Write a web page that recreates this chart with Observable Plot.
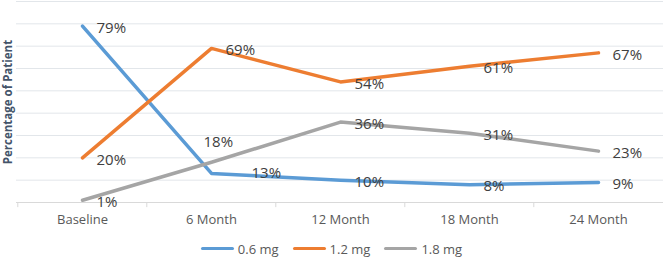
<!DOCTYPE html>
<html>
<head>
<meta charset="utf-8">
<script src="https://cdn.jsdelivr.net/npm/d3@7"></script>
<script src="https://cdn.jsdelivr.net/npm/@observablehq/plot@0.6"></script>
<style>
  html, body { margin: 0; padding: 0; background: #fff; }
  #chart { width: 663px; }
  .legend { display: flex; justify-content: center; align-items: center; height: 23px; font-family: "Open Sans", sans-serif; font-size: 13px; color: #595959; }
  .legend .item { display: flex; align-items: center; margin: 0 7px; }
  .legend .sw { width: 33px; height: 3.5px; border-radius: 2px; margin-right: 4px; }
</style>
</head>
<body>
<div id="chart"></div>
<script>
const categories = ["Baseline", "6 Month", "12 Month", "18 Month", "24 Month"];
const seriesNames = ["0.6 mg", "1.2 mg", "1.8 mg"];
const values06 = [79, 13, 10, 8, 9];
const values12 = [20, 69, 54, 61, 67];
const values18 = [1, 18, 36, 31, 23];
const colors = ["#5B9BD5", "#ED7D31", "#A5A5A5"];
const gridTicks = [10, 20, 30, 40, 50, 60, 70, 80, 90];

const seriesValues = [values06, values12, values18];
const data = [];
seriesNames.forEach((s, si) => {
  categories.forEach((c, ci) => data.push({series: s, cat: c, value: seriesValues[si][ci]}));
});
const isLabel13 = d => d.series === "0.6 mg" && d.cat === "6 Month";
const isLabel18 = d => d.series === "1.8 mg" && d.cat === "6 Month";
const defaultLabels = data.filter(d => !isLabel13(d) && !isLabel18(d));

const font = "Open Sans, sans-serif";
const step = 647 / 5;
const labelStyle = {x: "cat", y: "value", text: d => d.value + "%", textAnchor: "start", fontSize: 15, fill: "#404040", fontFamily: font};

const chart = Plot.plot({
  width: 663,
  height: 237,
  marginLeft: 16,
  marginRight: 0,
  marginTop: 1,
  marginBottom: 35,
  style: {fontFamily: font, background: "#fff"},
  x: {type: "point", domain: categories, padding: 0.5, axis: null},
  y: {domain: [0, 90], axis: null},
  color: {domain: seriesNames, range: colors},
  marks: [
    Plot.ruleY(gridTicks, {stroke: "#E2E6EA", strokeWidth: 1}),
    Plot.ruleY([0], {stroke: "#D9D9D9", strokeWidth: 1}),
    Plot.ruleX(categories, {x: d => d, dx: -step / 2, y1: 0, y2: -2.3, stroke: "#D9D9D9"}),
    Plot.axisX({tickSize: 0, tickPadding: 12, fontSize: 13, fill: "#595959", label: null, fontFamily: font}),
    Plot.text(["Percentage of Patient"], {frameAnchor: "left", textAnchor: "middle", rotate: -90, dx: -8.5, fontSize: 11.5, fontWeight: "bold", fill: "#44546A", fontFamily: font}),
    Plot.line(data, {x: "cat", y: "value", z: "series", stroke: "series", strokeWidth: 3.5, strokeLinejoin: "round", strokeLinecap: "round"}),
    Plot.text(defaultLabels, {...labelStyle, dx: 14, dy: 2}),
    Plot.text(data.filter(isLabel13), {...labelStyle, dx: 40, dy: 0}),
    Plot.text(data.filter(isLabel18), {...labelStyle, dx: -8, dy: -20})
  ]
});
document.getElementById("chart").appendChild(chart);

const legend = document.createElement("div");
legend.className = "legend";
seriesNames.forEach((s, i) => {
  const item = document.createElement("div");
  item.className = "item";
  const sw = document.createElement("span");
  sw.className = "sw";
  sw.style.background = colors[i];
  const t = document.createElement("span");
  t.textContent = s;
  item.appendChild(sw);
  item.appendChild(t);
  legend.appendChild(item);
});
document.getElementById("chart").appendChild(legend);
</script>
</body>
</html>
